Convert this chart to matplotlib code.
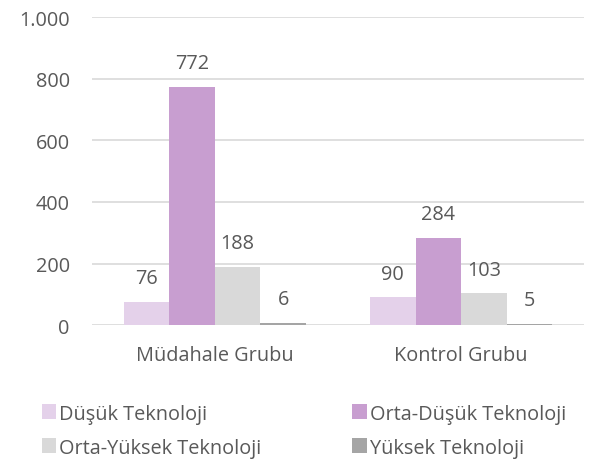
import numpy as np
import matplotlib
matplotlib.use('Agg')
import matplotlib.pyplot as plt

plt.rcParams['font.family'] = ['Open Sans', 'DejaVu Sans']

groups = ['Müdahale Grubu', 'Kontrol Grubu']
series = ['Düşük Teknoloji', 'Orta-Düşük Teknoloji', 'Orta-Yüksek Teknoloji', 'Yüksek Teknoloji']
dusuk = [76, 90]
orta_dusuk = [772, 284]
orta_yuksek = [188, 103]
yuksek = [6, 5]
yticks = [0, 200, 400, 600, 800, 1000]
ytick_labels = ['0', '200', '400', '600', '800', '1.000']

colors = ['#E4D1EA', '#C89ED0', '#D9D9D9', '#A5A5A5']
txt = '#595959'
fs = 14.3

fig = plt.figure(figsize=(5.93, 4.64), dpi=100)
ax = fig.add_axes([0.155, 0.297, 0.83, 0.664])

x = np.arange(len(groups))
w = 0.185
handles = []
for i, (vals, c) in enumerate(zip([dusuk, orta_dusuk, orta_yuksek, yuksek], colors)):
    b = ax.bar(x + (i - 1.5) * w, vals, w, color=c, label=series[i], zorder=3)
    handles.append(b)
    for xi, v in zip(x + (i - 1.5) * w, vals):
        ax.annotate(str(v), (xi, v), textcoords='offset points', xytext=(0, 10),
                    ha='center', va='bottom', fontsize=fs, color=txt)

ax.set_ylim(0, 1000)
ax.set_xlim(-0.5, 1.5)
ax.set_yticks(yticks)
ax.set_yticklabels(ytick_labels)
ax.set_xticks(x)
ax.set_xticklabels(groups)
ax.tick_params(axis='both', length=0, labelsize=fs, labelcolor=txt)
ax.tick_params(axis='y', pad=16)
ax.tick_params(axis='x', pad=14)
ax.yaxis.grid(True, color='#D9D9D9', lw=1.2, zorder=0)
for s in ax.spines.values():
    s.set_visible(False)

order = [0, 2, 1, 3]
fig.legend([handles[k] for k in order], [series[k] for k in order], ncol=2,
           loc='upper left', bbox_to_anchor=(0.07, 0.128), frameon=False,
           fontsize=fs, labelcolor=txt, handlelength=0.75, handleheight=0.75,
           handletextpad=0.15, columnspacing=4.55, labelspacing=0.7, borderaxespad=0,
           borderpad=0)

fig.savefig('out.png', dpi=100)
